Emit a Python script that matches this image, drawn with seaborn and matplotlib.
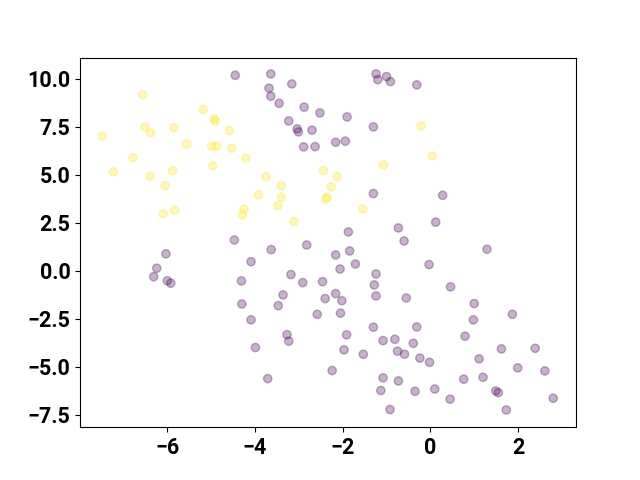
#!/usr/bin/env python3

import numpy as np
import pandas as pd
import matplotlib
matplotlib.use("Agg")
import matplotlib.pyplot as plt
import seaborn as sns

# Yellow cluster (label 1)
yellow_x = [-6.56, -5.18, -4.93, -4.90, -6.51, -6.38, -5.85, -4.58, -7.48, -5.56,
            -4.99, -4.88, -4.53, -4.21, -6.78, -7.23, -5.88, -4.96, -6.39, -6.05,
            -6.09, -5.83, -4.25, -4.29, -0.21, 0.04, -1.07, -2.44, -2.13, -3.75,
            -3.40, -2.26, -3.92, -3.40, -3.48, -2.35, -2.39, -1.54, -3.11]
yellow_y = [9.18, 8.40, 7.92, 7.80, 7.50, 7.19, 7.46, 7.31, 7.02, 6.61,
            6.51, 6.49, 6.39, 5.87, 5.89, 5.16, 5.22, 5.47, 4.93, 4.44,
            2.97, 3.16, 3.21, 2.93, 7.55, 5.99, 5.52, 5.22, 4.91, 4.90,
            4.44, 4.38, 3.96, 3.85, 3.40, 3.84, 3.75, 3.23, 2.57]

# Purple cluster (label 0)
purple_x = [-4.45, -3.64, -3.68, -3.64, -3.16, -3.45, -2.88, -2.52, -3.23, -3.04,
            -3.01, -2.70, -1.90, -1.30, -2.89, -2.63, -2.16, -1.94, -1.24, -1.20,
            -1.00, -0.91, -0.31, -4.47, -6.03, -6.24, -6.31, -6.00, -5.92, -4.09,
            -4.31, -4.30, -1.30, -0.73, -0.60, -1.87, -2.82, -3.63, -2.16, -1.84,
            -1.71, -2.06, -3.18, -2.91, -2.46, -1.24, -1.28, -1.24, -0.55, -3.36,
            -3.47, -2.40, -2.16, -2.02, 0.28, 0.12, 1.29, -0.03, 0.46, 1.00,
            -4.09, -2.58, -2.05, -3.27, -3.23, -3.99, -1.91, -1.97, -1.30, -1.08,
            -0.81, -0.75, -0.59, -0.39, -0.31, -0.24, -1.53, -2.24, -3.71, -1.08,
            -0.73, -1.13, -0.35, -0.92, 0.98, 1.87, 0.79, -0.02, 1.62, 2.39,
            1.11, 1.99, 2.61, 0.76, 1.20, 0.10, 0.45, 1.49, 1.55, 1.73, 2.80]
purple_y = [10.19, 10.26, 9.52, 9.10, 9.74, 8.73, 8.53, 8.23, 7.81, 7.40,
            7.24, 7.33, 8.02, 7.50, 6.46, 6.47, 6.70, 6.76, 10.26, 9.96,
            10.12, 9.86, 9.69, 1.61, 0.89, 0.14, -0.30, -0.51, -0.64, 0.48,
            -0.52, -1.72, 4.03, 2.24, 1.56, 2.03, 1.35, 1.11, 0.83, 1.04,
            0.36, 0.10, -0.19, -0.61, -0.56, -0.16, -0.73, -1.30, -1.41, -1.25,
            -1.81, -1.44, -1.18, -1.55, 3.94, 2.54, 1.13, 0.33, -0.83, -1.70,
            -2.55, -2.26, -2.20, -3.32, -3.66, -3.99, -3.33, -4.11, -2.93, -3.63,
            -3.56, -4.18, -4.34, -3.77, -2.92, -4.54, -4.34, -5.19, -5.61, -5.57,
            -5.73, -6.23, -6.27, -7.22, -2.55, -2.26, -3.40, -4.76, -4.06, -4.03,
            -4.58, -5.05, -5.21, -5.64, -5.54, -6.15, -6.68, -6.25, -6.34, -7.24, -6.63]

df = pd.DataFrame({
    "x": purple_x + yellow_x,
    "y": purple_y + yellow_y,
    "label": [0] * len(purple_x) + [1] * len(yellow_x),
})

plt.rcParams["font.family"] = ["Roboto", "DejaVu Sans"]
plt.rcParams["font.weight"] = "bold"
plt.rcParams["font.size"] = 15.5

fig, ax = plt.subplots(figsize=(6.4, 4.8), dpi=100)
sns.scatterplot(data=df, x="x", y="y", hue="label",
                palette={0: "#440154", 1: "#fde725"},
                s=36, alpha=0.3, edgecolor="face", linewidth=1.0,
                legend=False, ax=ax)
ax.set_xlabel("")
ax.set_ylabel("")
ax.set_xlim(-7.99, 3.32)
ax.set_ylim(-8.14, 11.11)
ax.set_xticks([-6, -4, -2, 0, 2])
ax.set_yticks([-7.5, -5.0, -2.5, 0.0, 2.5, 5.0, 7.5, 10.0])

fig.savefig("out.png", dpi=100)
